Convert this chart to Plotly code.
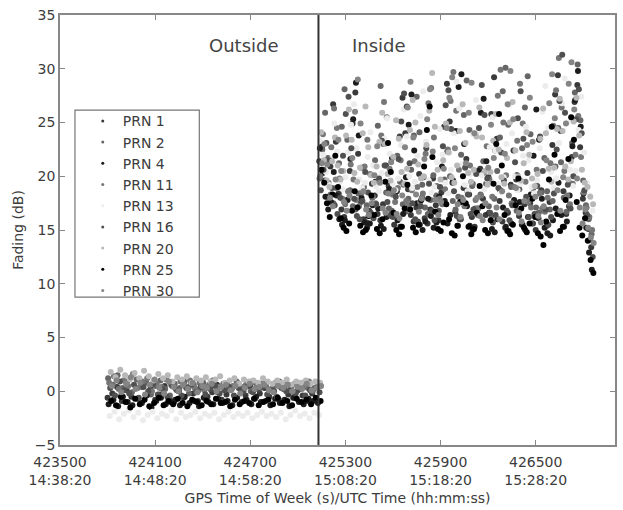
import numpy as np
import plotly.graph_objects as go

# Satellite PRNs and their plot shades
prns = ["PRN 1", "PRN 2", "PRN 4", "PRN 11", "PRN 13", "PRN 16", "PRN 20", "PRN 25", "PRN 30"]
shades = ["#3a3a3a", "#666666", "#1c1c1c", "#767676", "#ececec", "#505050", "#b8b8b8", "#000000", "#858585"]

# GPS time of week sampling (s)
outside_start, outside_step = 423800, 30
inside_start, inside_step = 425135, 17.5
transition_time = 425130

# Fading (dB) outside the building
outside = {
    "PRN 1": [-0.6, -0.2, 0.4, -0.9, 0.1, -0.5, 0.3, -1.1, -0.4, 0.2, -0.8, -0.3, 0.5, -0.7, -1.0, 0.0, -0.6,
              0.3, -0.2, -0.9, 0.4, -0.5, -0.1, 0.6, -0.8, -0.3, 0.2, -0.6, 0.1, -0.4, 0.5, -0.7, -0.2, 0.3,
              -0.5, 0.0, -0.8, 0.2, -0.3, -0.6, 0.1, -0.4, -0.9, -0.2, 0.3],
    "PRN 2": [1.2, 0.6, 1.5, 0.3, 0.9, -0.1, 1.1, 0.4, 0.8, -0.3, 0.5, 1.0, 0.2, -0.4, 0.7, 0.3, 0.9,
              -0.2, 0.6, 0.1, 0.8, 0.4, 1.0, -0.1, 0.5, 0.7, 0.2, 0.9, 0.4, 0.6, 0.0, 0.8, 0.3, 0.7,
              0.1, 0.5, 0.9, 0.2, 0.6, -0.1, 0.4, 0.8, 0.3, 0.0, 0.5],
    "PRN 4": [-1.2, -0.8, -1.4, -0.5, -1.0, -1.3, -0.7, -1.1, -0.4, -1.5, -0.9, -0.6, -1.2, -1.0, -0.8, -1.3, -0.5,
              -1.1, -0.9, -1.4, -0.6, -1.0, -1.2, -0.7, -1.1, -0.9, -1.3, -0.6, -1.0, -0.8, -1.2, -0.5, -1.0, -0.9,
              -1.3, -0.7, -1.1, -0.8, -1.4, -0.6, -1.0, -1.2, -0.7, -0.9, -1.1],
    "PRN 11": [0.8, 1.4, 0.2, 1.0, 0.5, 1.6, 0.3, 0.9, 1.2, 0.0, 0.7, 0.4, 1.1, 0.6, 0.2, 0.9, 0.5,
               1.0, 0.3, 0.8, 0.1, 0.6, 0.9, 0.4, 0.7, 0.2, 0.5, 0.8, 0.3, 0.6, 0.9, 0.4, 0.7, 0.5,
               0.2, 0.8, 0.4, 0.6, 0.1, 0.7, 0.3, 0.5, 0.9, 0.2, 0.6],
    "PRN 13": [-2.3, -1.9, -2.6, -2.1, -1.8, -2.4, -2.0, -2.7, -2.2, -1.9, -2.5, -2.1, -2.3, -1.8, -2.6, -2.0, -2.4,
               -2.2, -1.9, -2.5, -2.1, -2.3, -2.0, -2.6, -2.2, -1.9, -2.4, -2.1, -2.3, -2.0, -2.5, -2.2, -1.9, -2.3,
               -2.1, -2.4, -2.0, -2.6, -2.2, -1.8, -2.3, -2.1, -2.5, -2.0, -2.2],
    "PRN 16": [0.3, -0.4, 0.9, 0.1, -0.2, 0.6, -0.6, 0.4, 0.0, 0.7, -0.3, 0.2, -0.5, 0.5, 0.1, -0.4, 0.3,
               0.6, -0.1, 0.4, -0.3, 0.2, 0.5, -0.2, 0.1, 0.4, -0.4, 0.3, 0.0, 0.5, -0.1, 0.2, 0.4, -0.3,
               0.1, -0.5, 0.3, 0.0, 0.4, -0.2, 0.2, -0.4, 0.1, 0.3, -0.1],
    "PRN 20": [1.8, 1.3, 2.0, 1.5, 1.1, 1.7, 1.2, 1.9, 1.4, 1.0, 1.6, 1.2, 1.5, 0.9, 1.3, 1.1, 1.4,
               0.8, 1.2, 1.0, 1.3, 0.9, 1.1, 1.4, 0.8, 1.0, 1.2, 0.7, 1.1, 0.9, 1.0, 0.8, 1.2, 0.9,
               0.7, 1.0, 0.8, 1.1, 0.6, 0.9, 0.8, 1.0, 0.7, 0.9, 0.8],
    "PRN 25": [-0.9, -1.3, -0.5, -1.0, -1.5, -0.7, -1.2, -0.8, -1.4, -1.1, -0.6, -1.3, -0.9, -1.2, -0.7, -1.1, -1.4,
               -0.8, -1.0, -1.3, -0.9, -1.2, -0.7, -1.1, -1.0, -1.4, -0.8, -1.2, -0.9, -1.1, -0.7, -1.3, -1.0, -0.8,
               -1.2, -0.6, -1.1, -0.9, -1.3, -0.7, -1.0, -0.8, -1.2, -0.6, -0.9],
    "PRN 30": [0.5, 1.0, -0.1, 0.7, 1.3, 0.2, 0.8, -0.3, 0.6, 1.1, 0.3, -0.2, 0.9, 0.4, 0.0, 0.6, 0.2,
               0.8, -0.1, 0.5, 0.3, 0.7, 0.0, 0.4, 0.6, 0.1, 0.5, -0.2, 0.3, 0.7, 0.2, 0.4, 0.6, 0.1,
               -0.1, 0.5, 0.3, 0.6, 0.0, 0.4, 0.2, 0.7, 0.1, 0.3, 0.5],
}

# Fading (dB) inside the building
inside = {
    "PRN 1": [21.4, 22.8, 19.6, 18.1, 20.9, 26.7, 23.2, 18.4, 16.9, 16.2, 17.8,
              20.5, 24.9, 27.8, 22.1, 17.6, 16.0, 15.7, 16.8, 19.3, 18.2, 16.5,
              15.9, 17.4, 21.0, 19.1, 16.3, 15.5, 18.6, 23.7, 27.3, 24.0, 18.8,
              16.4, 15.8, 17.1, 20.2, 18.0, 16.1, 15.6, 16.9, 19.8, 17.3, 15.9,
              18.5, 24.6, 28.6, 25.1, 19.4, 16.7, 15.4, 16.0, 18.9, 21.6, 18.3,
              16.2, 15.3, 17.0, 20.7, 17.9, 16.4, 19.9, 25.8, 29.2, 23.5, 17.7,
              15.8, 15.2, 16.6, 19.2, 22.4, 19.7, 16.3, 15.5, 17.4, 20.3, 17.5,
              15.6, 15.0, 16.1, 18.7, 16.8, 15.4, 17.6, 22.9, 27.6, 29.4, 24.2,
              18.6, 16.5, 17.2, 21.8, 26.9, 28.5, 22.7, 17.9, 16.6, 15.1, 13.4],
    "PRN 2": [19.8, 22.5, 25.9, 21.7, 18.3, 17.5, 18.9, 21.2, 24.6, 28.1, 23.4,
              18.7, 17.2, 16.9, 18.4, 20.8, 19.0, 17.3, 16.6, 18.0, 21.5, 24.7,
              28.4, 23.0, 18.5, 17.0, 16.8, 18.6, 21.9, 19.5, 17.4, 16.7, 17.9,
              20.6, 23.8, 27.4, 24.1, 19.2, 17.1, 16.5, 17.8, 20.1, 18.2, 16.8,
              17.6, 19.7, 22.3, 20.0, 17.7, 16.9, 18.1, 22.0, 25.7, 28.9, 24.3,
              19.1, 17.0, 16.4, 18.3, 21.4, 19.3, 17.2, 16.3, 17.9, 20.5, 23.6,
              27.9, 30.1, 24.8, 19.0, 17.4, 16.8, 18.8, 22.6, 26.4, 29.3, 23.9,
              18.9, 17.1, 16.6, 18.5, 21.7, 18.6, 16.9, 17.7, 20.9, 24.5, 21.3,
              18.0, 16.7, 19.4, 23.1, 27.8, 30.4, 25.2, 19.6, 17.3, 16.0, 14.6],
    "PRN 4": [22.6, 20.3, 18.1, 16.9, 17.6, 20.4, 18.2, 16.0, 15.5, 15.9, 17.8,
              21.6, 25.3, 28.7, 23.8, 18.0, 15.7, 15.2, 15.6, 17.3, 19.5, 17.0,
              15.4, 15.1, 16.2, 18.8, 21.7, 18.4, 15.9, 15.3, 16.5, 19.9, 24.8,
              27.6, 22.4, 17.5, 15.5, 15.0, 15.8, 17.9, 16.3, 15.2, 15.7, 18.1,
              20.9, 17.7, 15.6, 16.4, 19.6, 24.2, 28.3, 29.5, 23.0, 17.2, 15.4,
              15.0, 16.8, 20.5, 25.9, 27.2, 21.4, 16.6, 15.1, 14.8, 16.0, 18.7,
              17.1, 15.3, 14.9, 15.6, 17.8, 20.1, 17.6, 15.5, 15.0, 16.2, 18.3,
              21.9, 26.2, 23.4, 17.9, 15.2, 14.7, 14.5, 15.9, 17.0, 19.4, 16.4,
              15.3, 15.8, 18.2, 22.8, 27.1, 29.8, 24.6, 18.4, 15.2, 12.9, 11.3],
    "PRN 11": [20.0, 23.9, 21.3, 19.4, 22.7, 26.3, 24.5, 19.8, 17.9, 17.4, 18.6,
               21.1, 19.7, 17.8, 17.2, 18.5, 20.9, 23.4, 20.2, 18.1, 17.5, 19.6,
               23.8, 26.9, 25.5, 20.7, 18.3, 17.6, 18.9, 21.5, 19.2, 17.7, 17.3,
               18.7, 21.4, 19.0, 17.6, 18.4, 22.1, 26.8, 28.2, 23.6, 19.1, 17.9,
               17.4, 18.8, 22.5, 27.0, 29.7, 26.1, 20.6, 18.0, 17.2, 18.6, 21.0,
               19.3, 17.8, 17.0, 18.2, 20.3, 22.8, 19.7, 18.1, 22.4, 27.5, 29.9,
               25.0, 20.1, 18.2, 17.5, 19.0, 23.3, 28.6, 24.9, 19.5, 17.6, 17.1,
               18.3, 20.6, 18.4, 17.0, 16.7, 18.0, 21.2, 24.7, 28.0, 31.0, 26.4,
               20.5, 18.2, 17.4, 19.3, 22.0, 25.6, 21.8, 18.5, 17.1, 16.2, 15.0],
    "PRN 13": [23.3, 22.0, 20.4, 19.2, 21.6, 24.9, 22.3, 19.5, 18.8, 19.9, 22.2,
               24.8, 26.7, 22.6, 19.7, 18.9, 19.4, 21.8, 24.1, 21.0, 19.1, 18.6,
               20.3, 23.5, 25.4, 22.1, 19.3, 18.7, 19.8, 22.9, 26.2, 23.7, 20.0,
               18.9, 19.5, 21.9, 25.6, 27.9, 23.2, 19.6, 18.5, 19.0, 21.3, 24.4,
               22.0, 19.4, 18.4, 20.6, 24.0, 28.8, 26.3, 21.1, 19.2, 18.6, 20.2,
               23.9, 27.1, 24.2, 20.1, 18.8, 19.7, 22.7, 25.5, 22.4, 19.3, 18.5,
               19.9, 23.0, 26.6, 24.0, 20.0, 18.7, 19.3, 21.9, 24.6, 21.5, 19.0,
               18.4, 19.6, 22.6, 26.0, 28.4, 24.5, 20.4, 18.9, 19.8, 23.1, 26.8,
               29.1, 25.0, 20.6, 19.1, 20.5, 24.3, 27.4, 22.2, 19.4, 18.2, 16.8],
    "PRN 16": [18.7, 20.6, 23.1, 21.5, 18.9, 17.3, 16.5, 18.0, 21.9, 25.8, 27.4,
               22.6, 17.9, 16.3, 16.0, 17.7, 20.4, 18.5, 16.6, 16.1, 17.4, 19.8,
               23.3, 21.0, 17.6, 16.4, 16.2, 18.1, 21.6, 25.1, 27.7, 26.5, 21.2,
               17.5, 16.0, 15.8, 17.2, 19.9, 22.6, 19.3, 16.8, 15.9, 16.7, 19.0,
               22.8, 26.6, 28.0, 24.4, 18.6, 16.3, 16.0, 17.6, 20.8, 18.3, 16.5,
               16.9, 20.2, 24.5, 28.5, 25.7, 19.8, 16.6, 15.7, 16.4, 18.9, 22.2,
               19.6, 16.8, 15.9, 17.3, 21.3, 25.4, 27.9, 23.5, 18.1, 16.2, 15.6,
               16.5, 19.1, 23.7, 20.5, 16.9, 15.5, 16.2, 18.4, 22.5, 27.0, 31.3,
               25.9, 19.2, 17.0, 20.0, 25.3, 28.1, 24.0, 18.7, 16.4, 14.1, 12.5],
    "PRN 20": [24.1, 21.5, 19.6, 19.0, 21.4, 23.6, 21.0, 19.7, 20.5, 23.8, 26.2,
               23.4, 20.3, 19.5, 20.8, 24.0, 26.5, 22.7, 20.1, 19.4, 20.9, 23.2,
               25.9, 23.0, 20.2, 19.6, 21.8, 25.2, 23.5, 20.4, 19.3, 20.7, 24.3,
               27.1, 25.0, 21.1, 19.8, 20.0, 22.9, 26.1, 29.6, 24.6, 20.6, 19.7,
               21.5, 24.9, 22.2, 19.9, 19.4, 21.0, 24.2, 26.7, 23.1, 20.3, 19.5,
               20.6, 23.7, 26.4, 23.6, 20.5, 19.2, 20.4, 23.3, 25.8, 22.5, 19.9,
               19.3, 21.7, 25.0, 26.9, 22.4, 20.0, 19.6, 21.2, 24.1, 22.0, 19.8,
               19.1, 20.2, 23.5, 26.3, 24.0, 20.7, 19.5, 20.8, 24.4, 27.2, 24.2,
               20.9, 19.7, 21.4, 25.1, 27.3, 23.8, 20.6, 19.4, 19.0, 18.1, 17.4],
    "PRN 25": [20.6, 19.4, 17.5, 16.2, 18.3, 21.9, 19.0, 16.1, 15.2, 14.9, 15.6,
               16.8, 18.6, 17.1, 15.4, 14.8, 15.0, 16.3, 18.2, 16.4, 15.1, 14.7,
               16.0, 19.5, 23.1, 20.4, 16.6, 15.0, 14.6, 15.3, 17.0, 19.2, 16.9,
               15.2, 14.8, 15.5, 17.8, 20.9, 24.3, 26.5, 21.8, 16.7, 15.1, 14.9,
               15.7, 17.4, 16.0, 14.7, 14.5, 15.4, 17.6, 20.0, 17.5, 15.3, 14.6,
               15.1, 16.6, 19.1, 17.2, 15.0, 14.7, 15.9, 19.3, 23.0, 25.8, 21.0,
               16.4, 14.9, 14.6, 15.5, 17.3, 19.8, 17.0, 15.2, 14.8, 15.6, 17.9,
               16.2, 14.7, 14.4, 13.6, 15.8, 19.7, 24.6, 22.0, 16.5, 14.9, 15.3,
               17.8, 21.6, 25.5, 23.4, 17.6, 15.2, 14.5, 16.1, 14.0, 12.2, 11.0],
    "PRN 30": [21.2, 23.0, 21.1, 18.0, 17.2, 19.7, 23.4, 20.5, 17.6, 16.8, 18.2,
               21.7, 26.0, 29.0, 24.9, 18.6, 16.9, 16.4, 17.5, 20.1, 22.8, 19.4,
               17.0, 16.6, 18.4, 21.3, 18.7, 16.5, 16.1, 18.2, 22.7, 26.4, 28.8,
               23.6, 18.3, 16.7, 17.9, 21.6, 25.3, 28.1, 22.3, 17.8, 16.4, 17.6,
               20.7, 24.5, 27.3, 29.2, 22.6, 17.4, 16.2, 17.8, 21.2, 25.9, 28.7,
               24.0, 18.0, 16.3, 15.9, 17.5, 20.8, 24.8, 21.7, 17.1, 16.0, 18.6,
               22.1, 26.7, 29.8, 25.3, 18.9, 16.6, 15.8, 17.7, 22.9, 27.3, 23.2,
               18.1, 16.3, 15.7, 17.2, 21.5, 26.8, 29.5, 25.4, 18.7, 16.8, 19.9,
               24.9, 28.6, 30.6, 26.2, 19.8, 17.1, 15.6, 16.9, 15.2, 14.3, 13.8],
}

# Axis ticks: GPS time of week with the matching UTC time
tick_gps = [423500, 424100, 424700, 425300, 425900, 426500]
tick_utc = ["14:38:20", "14:48:20", "14:58:20", "15:08:20", "15:18:20", "15:28:20"]

FONT = "DejaVu Sans, Verdana, sans-serif"
TEXT = "#3c3c3c"

fig = go.Figure()
for k, (name, shade) in enumerate(zip(prns, shades)):
    y_out, y_in = outside[name], inside[name]
    t_out = outside_start + outside_step * (np.arange(len(y_out)) + k / len(prns))
    t_in = inside_start + inside_step * (np.arange(len(y_in)) + k / len(prns))
    fig.add_trace(go.Scatter(
        x=np.concatenate([t_out, t_in]),
        y=y_out + y_in,
        mode="markers",
        name=name,
        legendgroup=name,
        showlegend=False,
        marker=dict(size=6, color=shade, line=dict(width=0)),
    ))
    # small-dot legend key for the same satellite
    fig.add_trace(go.Scatter(
        x=[None], y=[None],
        mode="markers",
        name=name,
        legendgroup=name,
        showlegend=True,
        marker=dict(size=3, color=shade, line=dict(width=0)),
    ))

fig.update_layout(
    width=623, height=510,
    margin=dict(l=60, r=6, t=15, b=65),
    paper_bgcolor="white", plot_bgcolor="white",
    font=dict(family=FONT, size=14, color=TEXT),
    showlegend=True,
    legend=dict(
        x=0.041, y=0.79, xanchor="left", yanchor="top",
        bgcolor="rgba(0,0,0,0)", borderwidth=0,
        font=dict(family=FONT, size=14, color=TEXT),
        itemsizing="trace",
        tracegroupgap=0,
    ),
    xaxis=dict(
        range=[423500, 427000],
        tickvals=tick_gps,
        ticktext=[f"{g}<br>{u}" for g, u in zip(tick_gps, tick_utc)],
        ticks="inside", ticklen=5, tickcolor="#888",
        showline=True, linecolor="#888", linewidth=1.5, mirror="ticks",
        showgrid=False, zeroline=False,
        tickfont=dict(family=FONT, size=14),
        ticklabelstandoff=3,
        title=dict(text="GPS Time of Week (s)/UTC Time (hh:mm:ss)", font=dict(family=FONT, size=14), standoff=6),
    ),
    yaxis=dict(
        range=[-5, 35], dtick=5,
        ticks="inside", ticklen=5, tickcolor="#888",
        showline=True, linecolor="#888", linewidth=1.5, mirror="ticks",
        showgrid=False, zeroline=False,
        tickfont=dict(family=FONT, size=14),
        title=dict(text="Fading (dB)", font=dict(family=FONT, size=14), standoff=8),
    ),
    shapes=[
        dict(type="line", xref="x", yref="y", x0=transition_time, x1=transition_time, y0=-5, y1=35,
             line=dict(color="#333", width=2)),
        dict(type="rect", xref="paper", yref="paper", x0=0.027, x1=0.251, y0=0.344, y1=0.779,
             line=dict(color="#777", width=1.2), fillcolor="rgba(0,0,0,0)"),
    ],
    annotations=[
        dict(x=424659, y=32.2, text="Outside", showarrow=False, xref="x", yref="y",
             font=dict(family=FONT, size=18, color="#444")),
        dict(x=425512, y=32.2, text="Inside", showarrow=False, xref="x", yref="y",
             font=dict(family=FONT, size=18, color="#444")),
    ],
)

fig.write_html("out.html")
